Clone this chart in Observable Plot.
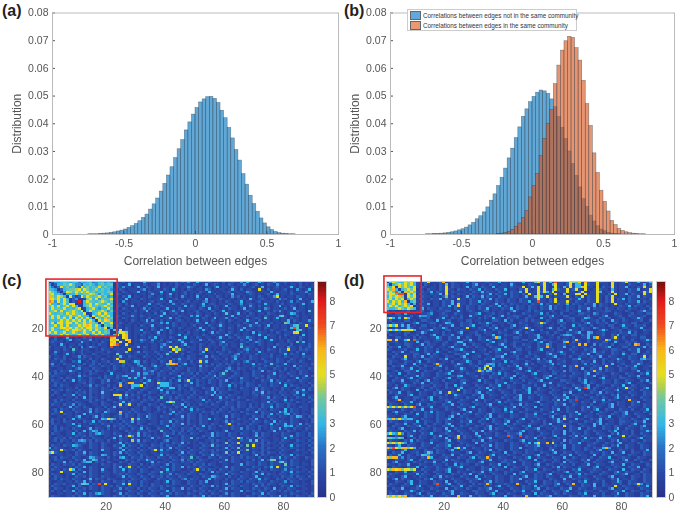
<!DOCTYPE html>
<html><head><meta charset="utf-8">
<script src="https://cdn.jsdelivr.net/npm/d3@7"></script>
<script src="https://cdn.jsdelivr.net/npm/@observablehq/plot@0.6"></script>
<style>
html,body{margin:0;padding:0;background:#fff}
#page{position:relative;width:678px;height:518px;overflow:hidden;font-family:"Liberation Sans",Arial,sans-serif}
#page svg{position:absolute;filter:blur(.4px)}
#page svg g[aria-label$="tick label"]{font-size:10.5px}
.tag{position:absolute;font-weight:bold;font-size:16px;color:#222}
#legend{position:absolute;left:407px;top:9px;width:170px;height:22px;background:#fff;border:1px solid #ccc;box-sizing:border-box;font-size:6.3px;color:#333;white-space:nowrap}
#legend div{position:absolute;left:1px;height:9px;line-height:9px;padding-left:14px}
#legend i{position:absolute;left:1px;top:0;width:11px;height:9px;border:.5px solid #666;box-sizing:border-box}
</style></head><body><div id="page"></div>
<script>
// Histogram bars: heights (a) and (b), one per 0.025 bin from -1 to 1.
const binStart = -1, binWidth = 0.025;
const histA = [0,0,0,0,0,0,0,0,0,0,.0001,.0001,.0001,.0002,.0003,.0004,.0006,.0008,.0011,.0014,.0018,.0024,.0030,.0038,.0048,.0060,.0072,.0090,.0109,.0130,.0155,.0183,.0213,.0243,.0276,.0308,.0341,.0376,.0405,.0433,.0457,.0477,.0488,.0496,.0497,.0490,.0475,.0447,.0420,.0385,.0347,.0305,.0267,.0218,.0180,.0140,.0110,.0082,.0058,.0040,.0026,.0016,.0009,.0005,.0003,.0002,.0001,.0001,0,0,0,0,0,0,0,0,0,0,0,0];
const histBlue = [0,0,0,0,0,0,0,0,0,0,.0001,.0001,.0002,.0002,.0003,.0004,.0006,.0008,.0011,.0015,.0019,.0025,.0033,.0042,.0055,.0066,.0080,.0098,.0122,.0145,.0175,.0205,.0238,.0275,.0310,.0348,.0387,.0425,.0452,.0478,.0497,.0512,.0520,.0517,.0508,.0488,.0460,.0425,.0385,.0345,.0300,.0255,.0212,.0170,.0128,.0100,.0068,.0047,.0030,.0018,.0012,.0006,.0003,.0002,.0001,0,0,0,0,0,0,0,0,0,0,0,0,0,0,0];
const histOrange = [0,0,0,0,0,0,0,0,0,0,0,0,0,0,0,0,0,0,0,0,0,0,0,0,0,0,0,0,0,0,.0002,.0003,.0006,.0010,.0017,.0028,.0040,.0060,.0085,.0134,.0175,.0218,.0284,.0345,.0400,.0450,.0543,.0610,.0664,.0698,.0714,.0710,.0673,.0628,.0555,.0471,.0392,.0293,.0222,.0158,.0118,.0083,.0049,.0034,.0020,.0013,.0008,.0005,.0003,.0002,.0001,.0001,0,0,0,0,0,0,0,0];
const xTicks = [-1,-0.5,0,0.5,1];
const yTicks = [0,.01,.02,.03,.04,.05,.06,.07,.08];
const legendLabels = ["Correlations between edges not in the same community","Correlations between edges in the same community"];
const heatTicks = [20,40,60,80];
const barTicks = [0,1,2,3,4,5,6,7,8];

// Heatmap cells: blocks, strips and hot cells follow it,
// the faint background speckle only approximately. One row per line, one character
// per cell, in half-unit steps: 0=0, 1=.5, 2=1, 3=1.5 ... 9=4.5, a=5 ... h=8.5.
const matrixC = `
1355676566 4656745675 6521231321 1262212312 1223132521 6212312213 1232151621 2631225212 3121231221
5136687a75 5376865786 7813212612 2132122512 1213212213 2126123212 1321225212 3121321521 2122131212
6414a68675 3a68676a68 6613252212 6213212612 2123122532 1212213612 2132122123 1261212312 1262132122
7651367889 a6a8679686 7521321222 1351212213 2162121321 2215312122 1262131221 1a21312212 3121521261
a86415a97a 8a8a786776 8812132122 6121321261 2122123122 1321621212 2312212532 1222162122 2131222512
9a6751666c 6688a97586 6a13212212 1221252131 2612123121 3212213121 2261221232 1212312612 2132122132
c97a961a42 3a6a878a68 5612132612 2121321221 2312152121 6121221321 2152312122 1321225a12 1221322122
ca8a6a6135 1128a6a586 7a21216122 1321212261 2123121221 3216122132 1221222162 1232122152 3121261212
dc5a6a7132 g16a8768a8 6812152122 2121231222 1621212312 2135122121 3212261221 2312221312 1251322126
a6657a6aa1 2168a6a876 a612213121 2212612321 2152132122 1261232122 1321251232 1216212213 1222126122
7a6a68a6a6 1168a7868a 7813212261 2123122132 1212216132 1252213212 6122132152 1312212261 2132122122
6a787a6768 a1268a6576 a612132122 1251312212 6121321222 1321612212 1322126122 1215312212 3126122122
78a6a678a8 6a16a768a8 5821212213 1226122132 1252261212 3122132126 1212212321 2612213252 1221322172
a76786a8a8 76a1268a6a 7612132122 1212213126 1223121221 3212213212 7212612132 1221322122 1265212122
6a7a687a78 a7761a68a8 a613212252 1321221261 2121322152 6213212212 1261221322 1213212268 2121312212
7a6a7a6a5a 7a6a61a86c 7812132122 1212312212 2613212212 2132126122 5213212212 3217212612 2132212212
6767a7a7a8 a6a6a61a7a c612212132 1226152131 2212321212 6122132122 1321221622 1312212212 2613212252
6a5aa7aa6a 78a7c861a6 7a21321221 2123212252 6132122121 3216122132 1212213212 6122131221 8612132122
67a6a6a677 a8aca7a618 6813212212 1321261221 2132122123 1221321262 1221321252 2312612212 2136722a21
7a67aaca7a 8a7aa8c86a 1612213212 2122132122 6121321221 2612132122 1321226122 1213212212 216e712132
6a7668a7aa c7a7a6a768 6172a13212 2612132152 1321212212 3162122132 1221261321 2212132122 3121672122
a7a67a67a8 67a76a6a68 7116aa8212 2132212612 1321221312 2121261322 1321212216 1322121321 222ba12122
5777a6a767 a77a57a7a6 517a2ac212 1321221322 1212613212 2132122121 6213212212 1621322121 3212216122
2131126212 1232312212 1ca21ac212 1221326122 1321126121 3212211262 1321322532 1216122131 2122132122
1231213612 3122512122 2aca12ac12 2532152131 2122631122 1521321221 2112132152 1321262122 1322131122
2322212112 1622122132 1ca2a21c12 1321231221 3512262132 2112132136 1221122312 5321221122 1321726122
1221621221 3212121322 1ace21a212 2112122135 2122136112 1321222132 3122152122 1321221322 2131122132
3122231312 1512532122 1e12122122 6132122152 2a3a221322 1312212213 2122172322 1121216122 1522131232
2122132172 1322112132 2122221a21 1122122132 21a6932122 132a212113 2211213521 3121322132 2a22132322
1152122131 2312212221 3212228212 5132213212 251a221321 1261221322 1321231312 1621212132 2121312212
1231126121 1321132122 2118212212 2213121322 7122131122 1321121132 2213512221 3122131122 6132216112
3122131122 5132212211 2122621322 1132212131 2211221322 1126132212 2135212132 2122231221 3212213222
2132231211 3221312132 112a212212 2112121322 2132522322 1322113221 3126122132 2132121322 1132122132
1221321132 6112132122 3122c92126 5132122132 1c21322131 2a26112212 2132213521 2113221322 1322132112
2512132212 2131231312 1322132212 5122132122 7ccd136122 1322131231 3221312126 1322172212 6112212213
1322112251 3211322132 2132231221 3522136221 3221322112 1613221322 1311212213 2213221322 1216132212
2112212213 5122132211 2132122132 2152213212 2313221322 1322113221 3521322122 1322113221 3121322132
1231322632 1122313221 3221122162 2132352132 2132211322 1322132212 6132212113 2261322132 2122132212
3132221221 3121322112 1612212222 6155231322 1322132231 3121322137 2113212213 2211226122 1322132211
1322112212 6132211213 2213256122 5132211322 2112612213 1213226132 2132212213 2231322132 2132212613
2212313221 3211322313 2213222626 2162212213 1231322132 2132231322 1322152211 3221322122 2112613221
1322131261 3221321132 5122132122 2313621322 1312613a21 3221322132 6112132212 1132261322 1322132212
2132212111 2231321132 2112613cc2 2163221a66 6322112261 3121322132 1132231322 1122132261 3221122132
1231322112 2122513221 3121c22166 6a13221366 6312313221 3221122132 2613121322 1322132211 6132212213
2112212213 1211322132 2132212162 2132212613 2661321132 1132261322 1312132212 5132212113 2211322132
1322313221 3121322132 2313221322 1322122261 3221312132 2112261322 1322122212 6132212213 1213226132
2132112213 2231322172 2122113221 3211322132 5132212213 1213226132 2112212213 2271322132 2122613211
1312132261 3221312132 21aaa16132 2132211213 2211322132 2112261322 1322112212 3132212213 2213216122
2112212213 1261322132 2112613221 3121322172 2313221322 1322112261 3221322112 2122513221 3121322132
1231322131 2122313221 3211322132 2132231322 1322132212 2261312132 2132211322 1122132212 6132112213
2132212213 2211322132 1132261322 1322112212 6a82213221 2213221321 3221322112 2122613211 3221322132
1322132251 3221122132 2122a13a21 3211322132 1132261312 1322132211 3221322131 2132231322 1322112212
2112212613 2132112213 1261322112 2132212313 2213216132 2112212213 2231322132 2132261322 1312132212
1231322132 2122513221 3221122132 2132211322 1322131261 3221122132 2132211322 1322132211 6132212213
2132a12213 2212613216 3221c22313 2112212213 1261322132 2132231322 1312132212 6132212163 6132212113
1322132212 1261322132 2112613221 3221322112 2513221322 1312132212 2132211322 2132261322 5613212213
2112212213 6112136132 2122313221 3216322132 2112261322 1322112212 6132212113 2231322132 2132652132
1322131261 3221122165 a8513221a2 6221322112 2132231322 1322613221 3121322132 6112132212 1132212213
2312132212 1132261322 1312132261 3221122132 2613221312 1322112212 5132212213 2213216132 2132211213
1322112261 3121322132 2122313221 3211322132 2132271322 1322132211 3a21322132 2112261322 6132261322
2131212213 6122112212 5132231322 1322112212 6132212213 1261322132 2132211322 1322132212 6561322132
1231322132 2112613221 3121322132 2613211322 1322132231 3221322112 2132251322 1312132261 3213221322
2132212213 1261365132 2122113221 3221322172 2132231322 1322112212 6112212213 2211226122 1322112212
1322112261 3221325632 2132211322 6132212113 2231322132 2112261322 1322132212 5132212213 2211322132
2112212213 2231322112 2122613a51 6132312213 6112132212 1132261322 1322112212 6132212113 2261322132
2132231322 1312132212 1261322132 2112261322 1322132271 3221322112 2132a51322 1322112212 6132212213
1231322132 5652313221 3121322192 6132212113 5122132212 2112231322 1322132261 8132212213 2211322132
2112212213 2231322132 2112613221 3221122132 2132261312 1322132212 8132a12213 2231322132 2112212213
1322132265 3211322132 1132261322 1322132231 3221322112 2132271322 132213181a 2132212213 1261322132
6132211213 2211322132 2122513221 3121322132 2613221312 1322112212 6132812213 2231322132 2132212113
1322a32231 3221122162 2112261322 132213a261 3211322132 2132231322 1312132812 2132211213 2211322132
6a32212113 2261322112 2132613221 3221122132 2112261322 1322132212 8132a12213 2231322132 2112212213
2112212213 2231322165 2132211322 1322112261 3221322132 1132261322 1322132212 6132211213 2261322112
1231322132 2112653221 3121562132 2313221322 1322132271 3211322132 2132231322 1312132261 3213211322
2132211213 2261375132 2122113221 3226322112 2132251322 1322112212 6132212213 1261388132 2132211213
2112261322 1356613221 3211322132 2112261322 1322132231 3221122132 2132211322 1322132268 3132212113
1322132231 3221122132 2132211322 1312132212 5132212213 2231322112 2112261322 1322132221 8132212213
2132211213 2261322112 2132613a21 3121322132 1132261322 1322112212 6132212113 2213261a21 3221322112
1322132a61 3211322162 1132261322 1322112212 6132211213 a231322132 2132211322 1312132212 5132212213
2112a22213 1261322132 2132231322 1322132271 3221122132 2112261322 1322132212 6132212113 2261322132
1322112261 3221322112 2122313221 3211322132 2513221322 1322112212 6132212213 1261322132 2132211213
2132212113 2231322132 2112261322 1322132231 3221322112 2132265322 1312132212 6112212213 2231322132
1231322132 2112613221 3221122132 2132211322 1322135132 2112613221 3121322132 2613211322 1322132212
2112212213 2261312132 2132231322 1322112212 6132211322 1326112212 2132231322 1322132212 5132212113
2132231221 3786132e1a 2112261a22 1312132212 2132211322 1322112212 6132212213 2231322132 2112212213
1322112261 3211322132 2313221322 1322132231 3221122132 2132261312 1322132212 5132212113 2261322112
2132212113 2231322132 2122513221 3121322132 1132261322 1322112212 6132212213 2213216122 1322112212
1312132261 3221122132 2132211322 1322132212 6132211213 2231322132 2112261322 1322132231 3221322112
2112212213 2261325632 2112613221 3211322132 2313221322 1322132212 5132212113 2261322112 2132212213
1322112231 3221322112 2132231322 1312132212 6112212213 2261312132 2132211322 1322132271 3121322132`;

const matrixD = `
16a866a8a6 2223a2123c 1232122613 2212312261 2132126222 7a3a262e22 13a87a2c32 2a3221a212 3a21262136
6168a8a8a6 2213212132 8132212213 6122132212 2162112132 213a216a22 13a2662a32 2a1221a212 2132212613
86a1a8a86a 2132122132 a132212613 2132216122 213222a126 2a2a212a21 62a266ca22 1a1322a212 2612132a22
a8c6168a8a 1221322132 a221322132 2613221322 6122132a21 2a2a216a32 2a23a21a21 2a32216212 213226122a
6a8e81c8a8 2132261322 a132212213 2261322132 2132261a12 2a3a62a122 2a2213a212 2a6122a212 2132212a3a
8aa6ee1a6a 1322132261 a221322132 2132261322 61322132a2 1a22132a21 6122aa1a22 2a22132a12 2613221a22
6a8ac81a8a 2132212213 8132212613 2261322132 2132212612 7a62a21322 2a2132a132 2a2132a212 2132261322
8a6a8a16a8 1322132261 3221a22132 2132261322 1322132212 2a22132a12 2132262132 2a2132a132 6132212213
a6a8a6c168 2132212213 2261322132 2613221322 1322132261 2e22132a22 2a21322132 2a2132a122 2132261322
68a6a8a616 1322612213 2261c22132 2132212613 2132212213 2261322132 2613221322 6132212a22 1322132212
6a8a68a8a1 2132212213 2613a21322 1322132261 3221322132 2132261322 1322132212 6132212213 2261322132
8668a86a86 1261322132 2213221322 1322612213 2261322132 2132261322 1322132261 3221322132 2132212213
3121122311 2231131222 3311621232 1123312122 1136211231 3221123112 2312261131 1222331212 1321123622
2213316212 1122351123 2113221122 3611223122 1312113221 2261312213 1122133221 5312211322 1123122133
1122321131 2655321122 3122131162 2113231126 1223321132 2112236121 3311222131 2213611223 1132212311
6a6261a621 1322311226 1132231122 1313216221 1322311322 1162132211 2233112652 1132231122 3112263112
2311213312 1133221612 2311221331 2212113321 6131122313 2211321136 1223113212 2313116221 3211223113
1132231123 6211233112 6521132231 1322631122 1321132211 23a5212132 3112221362 1322311321 2213311221
6a6a262612 1133122131 2261132236 1122313212 1136122311 2231122113 2116132213 1122133112 6221322311
2113122631 1322113226 3112212a12 1321132611 2231123a31 1221362131 3112213221 5312113221 3311226112
6a6a6aaba6 1122362211 3312132211 2236113221 3112231126 2131122133 1162213221 1136311223 1132211322
3112213311 2263112213 1211361122 3113221132 2113621322 1122311321 1322361165 1223112213 2261311221
1322113122 3121136113 2251131221 3311226121 3221131122 3611223113 5652113262 1123113261 2213312211
2113312213 1322122631 1322611321 1322113c61 2113321122 2631122131 2213112261 6c22113a21 3112213311
cc2a126a1e 3112212331 1322113261 1322631122 3112213312 6113221122 3212c21131 1221c51321 2213112263
1223113221 6113312212 3112661132 1122136122 3113221122 1361132211 6c13221131 2213311621 1322311221
3112213321 1261322113 2113226113 2211321136 2123113221 1322631122 31221c1c11 5132213112 2231cd1132
1322611321 2113231122 1362211321 3221132211 6113221231 1322c31122 6113212213 1122361121 3312212613
3211223112 6113221312 2113362112 1223112361 2211331221 1361123122 1132211322 6112213322 1132261122
1132261132 2113221621 1322113226 1122131322 1136221131 2211322136 2113112213 6223113221 3112261132
2213112213 3112613212 2113322611 2213311221 6113221132 2111362213 3112213261 1322113221 6213311322
113221a113 2261132211 3221136112 2311221336 1122311321 3211223611 2131132213 2261132211 2132212a13
3221136112 2113322132 6112213312 2113226113 2211322113 2613121132 2113361122 3113212263 1132215633
1322113221 3611322112 2131122631 1322113221 6132211321 1322361122 3112213221 6113122132 2113223112
2311223116 1322113c32 1122631132 1322565132 2113212613 1122136132 2112212513 2213216112 3112263121
1132261122 3113221361 2113221122 3116a25132 1322611321 2113223112 6132c11221 3221a21132 1322611223
3221132261 1322113221 3112263112 152a2a2113 2211361132 1122132212 1132216113 2261322113 2213311221
1123113322 6113221131 2261132211 3a52652132 2113221361 1322113221 5132211322 c231322113 2112261132
3221611322 1132211322 3611221322 1132213261 3211322113 6112213312 2113221361 1322113221 1322113261
1322113122 6132211322 1132561122 3121132211 3226113212 2113361122 3132211322 6113212213 1132261122
2113221361 1322113221 3611322112 2131132213 2261132211 3213611322 1122131322 1136112213 3221132211
1132261122 3113612213 1122133211 2613211322 1132213122 1361122113 3221132612 2113221321 1322113261
3221132113 2261132211 3221136112 2113221322 6113221132 2113261122 1322113613 2113221322 1361122113
2213116322 1132213221 3116132211 3221132261 1322113221 3116122132 2113221361 1322113221 6113212211
1136132211 2231132211 3221361122 1322613221 1322113261 1321132211 3221632f61 3211322132 2a32211361
3221132211 6113221322 1121a13221 3221162132 2113221361 1322113221 1132261122 3113221361 2213113221
1322611321 1322113261 2a32113221 3611322113 2213112261 3221132211 3261122113 2261322132 1132211322
2113221361 1322113221 3116322113 2261132211 3221361122 1322113221 6113221321 1322113261 2213211322
1136112213 3221361132 2113221322 1361122113 2213261132 1132211322 3611322113 2213211362 1322113221
2113c12213 1132261122 3221132211 6113221321 1322361122 1132213271 6132f11221 3226132211 21c2211322
3221132261 1322113221 3611322113 2213112261 3221132211 3611221322 1132213221 5113221132 2113261122
1322113221 3611322113 2261132211 3221361122 1132261322 1132211322 6113212213 1122136132 2113221322
a6a6a6a6ae 1132261122 3211322136 1122132211 3226113221 6112213221 1322113261 3221136112 2132211322
3221132113 2261132211 3221136112 1322113221 6132211322 1132213261 1322113221 3611322113 2213112261
1136221131 2213261322 1132211361 1322113221 3261132211 3221136112 1322612213 1132211322 3611221322
2213113221 6113221322 1132613221 3221361122 1132211322 6113221321 1132261122 1322113221 3611322113
3221136112 2113221322 1361132211 2213261132 1132211322 3221136112 5132211322 1132261122 3221132211
66c6a65662 1132211322 3611221322 1132613211 3221136122 1322113261 a211622113 2261322113 2213211362
1322113221 6113221321 3221132261 1322113221 3611322113 2213112263 1132211322 1361122113 3221322611
2113226113 2213113221 3611221322 1132211322 6113221132 2113261122 3221132211 6261322113 2213611322
1132211322 3611322113 2261132211 3221361122 1322113261 1132213221 a132113221 6113221322 1132213611
3221361122 1132213221 6113221132 2113261322 1132211322 3611221322 1132261132 2113221361 1322113221
1322113226 1322113221 3611322113 2261132211 3221136122 1322113221 6132211321 3221132611 2213112263
6a65a51322 1132261122 3221132211 6113221321 1322361122 1132213221 6113221321 1322113261 2213113221
2113221361 1322113261 1322a13221 3611221322 2e321e1322 1322113611 2132613221 1132261122 a132211322
8865860213 1322113221 6113c13221 1322361122 1132211322 6113221132 2113221613 2261132211 3221136122
1322113261 3221132211 3611322113 2261132211 3221136122 1322113221 6132213221 1322113261 2213211322
a8a8a85132 1132261122 3221132211 6113221322 1132213261 6a22c1a213 1132261122 3211322136 1122132211
2213611322 1132211322 3611221322 1132261322 1132211322 3611221322 6113221132 2113213261 1322113221
c6ea8cc8a6 1322113221 3216a26113 2213211322 1132261122 3221132211 6113221321 3226c51122 1322113221
3221136112 2113221322 1361132211 2213261132 1132211322 3221136112 2113221322 1361122113 2213112261
1132261122 3113851322 1132211361 1322113221 6113221322 1132213611 3221322113 2213216122 6113221322
1322611321 3276522113 2261132211 3221136122 1322113221 3611322113 2261132211 6113221322 1132211322
c8cc251322 1132c61122 3211322136 1322c31132 2113221361 1322113221 6113212213 1132261122 3221132211
2113221361 1322113221 6132211322 1132261122 3221132211 6113221321 1322113261 1322113221 3611322113
1136112213 2213226113 2113221322 1361122113 3226113221 1322113221 6132211321 3221136112 1322113221
3221322611 1322113221 3116132211 3221132261 1322113221 3611322113 2213112261 1322113221 6113221132
1132211322 6113221321 1322361122 1132213221 6113221321 1322113261 3221132211 3611221322 1132261122
a8cac8aa8a 1132211322 3611221322 1132261322 1132211322 6113221132 2113261122 3221132211 6113221321
2113226113 2213113221 3611322113 2261132211 3221136122 1322113221 3611322113 2213211362 1322113221
1322113221 6132211322 1132213261 1322113221 3116132211 3221361122 1132261322 1132211322 3611221322
3221136112 1322113261 3221132211 6113221322 1132213611 3221322113 2261132211 3221136112 2113221322
1136132211 2213261132 1132211322 3611221322 1132261122 3221132211 6113221321 1322113261 2213211322
2113221361 1322113221 6113221132 2113261322 1132211322 6113221321 3221132611 2213112263 1132211322
1322113261 1322113e21 3611322113 1322c31122 3221c21132 2113221361 132c113221 6113212213 11323a5132
3221132211 3611221322 1132261132 2113221361 1322113221 6132211322 1132213221 6113221a21 3221132261
1132261122 3221132211 6113221321 1322361122 1132213221 3611322113 2261132211 3221136122 1322113221
2213112263 1132211322 1361122113 3221322611 2113226113 2213113221 3611221322 1132211322 6113221132
1322113221 3611322113 2261132211 3221136122 1322113221 6132211321 3221132611 2213112261 1322113221
a8a8a8c132 1132261122 3211c22172 1322113221 6113221c21 1322361122 1132213221 6113221321 1322113261`;

const chars = "0123456789abcdefgh";
const bandDomain = [0,1,2,3,4,4.5,5,6,7,8,8.8];
const bandColors = ["#27308c","#2a4aa8","#2a72c8","#33b8e8","#70c8a0","#b0d050","#e4e020","#f8b818","#f04a20","#e01a1a","#6a1010"];
const colorScale = {type:"linear", domain:bandDomain, range:bandColors};
const barLevels = d3.range(0,8.8,0.1);
const INK = "#555";

const page = document.getElementById("page");
function place(svg,left,top){svg.style.left=left+"px";svg.style.top=top+"px";page.appendChild(svg);}
function tag(t,left,top){const d=document.createElement("div");d.className="tag";d.textContent=t;d.style.left=left+"px";d.style.top=top+"px";page.appendChild(d);}

function histPlot(series,marginLeft,innerWidth){
  const bars=[];
  series.forEach(({values,fill})=>values.forEach((v,i)=>{ if(v>0) bars.push({x1:binStart+i*binWidth,x2:binStart+(i+1)*binWidth,y:v,fill}); }));
  return Plot.plot({
    width:338,height:270,marginLeft,marginRight:338-marginLeft-innerWidth,marginTop:12.5,marginBottom:36,
    style:{fontFamily:"Liberation Sans, Arial, sans-serif",fontSize:"12px",color:INK,background:"transparent",overflow:"visible"},
    x:{domain:[-1,1],ticks:xTicks,tickFormat:d=>String(d),tickSize:-3,tickPadding:8,label:"Correlation between edges",labelAnchor:"center",labelArrow:"none",labelOffset:30},
    y:{domain:[0,.08],ticks:yTicks,tickFormat:d=>String(d),tickSize:-3,tickPadding:7,label:"Distribution",labelAnchor:"center",labelArrow:"none",labelOffset:40},
    color:{type:"identity"},
    marks:[
      Plot.rect(bars,{x1:"x1",x2:"x2",y1:0,y2:"y",fill:"fill",fillOpacity:.62,stroke:"#2b3a48",strokeOpacity:.55,strokeWidth:.6}),
      Plot.frame({stroke:"#bbb"})
    ]
  });
}

function heatPlot(rowsText,box){
  const rows=rowsText.trim().split("\n").map(s=>s.replace(/\s/g,"").padEnd(90,"2").slice(0,90));
  const cells=[];
  rows.forEach((r,j)=>{for(let i=0;i<90;i++)cells.push({x1:i+.5,x2:i+1.5,y1:j+.5,y2:j+1.5,v:chars.indexOf(r[i])/2});});
  return Plot.plot({
    width:box.left+266+4,height:250,marginLeft:box.left,marginRight:4,marginTop:13,marginBottom:21,
    style:{fontFamily:"Liberation Sans, Arial, sans-serif",fontSize:"12px",color:INK,background:"transparent",overflow:"visible"},
    x:{domain:[.5,90.5],ticks:heatTicks,tickSize:0,tickPadding:5,label:null},
    y:{domain:[90.5,.5],ticks:heatTicks,tickSize:0,tickPadding:5,label:null},
    color:colorScale,
    marks:[
      Plot.rect(cells,{x1:"x1",x2:"x2",y1:"y1",y2:"y2",fill:"v",inset:0,shapeRendering:"crispEdges"}),
      Plot.frame({stroke:"#ccc"}),
      Plot.rect([box.rect],{x1:"x1",x2:"x2",y1:"y1",y2:"y2",fill:"none",stroke:"#e8262a",strokeWidth:1.6,clip:false})
    ]
  });
}

function barPlot(){
  return Plot.plot({
    width:40,height:250,marginLeft:1,marginRight:30,marginTop:13,marginBottom:21,
    style:{fontFamily:"Liberation Sans, Arial, sans-serif",fontSize:"12px",color:INK,background:"transparent",overflow:"visible"},
    x:{domain:[0,1],axis:null},
    y:{domain:[0,8.8],ticks:barTicks,tickSize:0,tickPadding:3,label:null,axis:"right"},
    color:colorScale,
    marks:[
      Plot.rect(barLevels,{x1:0,x2:1,y1:d=>d,y2:d=>d+.1,fill:d=>d+.05,inset:0,shapeRendering:"crispEdges"}),
      Plot.frame({stroke:"#ccc"})
    ]
  });
}

place(histPlot([{values:histA,fill:"#0072BD"}],52,286),0,0);
place(histPlot([{values:histBlue,fill:"#0072BD"},{values:histOrange,fill:"#D95319"}],50,284),340,0);
place(heatPlot(matrixC,{left:48,rect:{x1:-.2,x2:23.9,y1:-.3,y2:23.4}}),0,268);
place(heatPlot(matrixD,{left:46,rect:{x1:-.2,x2:12.4,y1:-1.6,y2:13.6}}),340,268);
place(barPlot(),316,268);
place(barPlot(),655,268);

tag("(a)",2,2);tag("(b)",344,2);tag("(c)",2,272);tag("(d)",344,272);

const lg=document.createElement("div");lg.id="legend";
legendLabels.forEach((t,i)=>{const r=document.createElement("div");r.style.top=(1+i*10)+"px";
  const k=document.createElement("i");k.style.background=i?"#ea9a72":"#62a8da";r.appendChild(k);r.appendChild(document.createTextNode(t));lg.appendChild(r);});
page.appendChild(lg);
</script></body></html>
